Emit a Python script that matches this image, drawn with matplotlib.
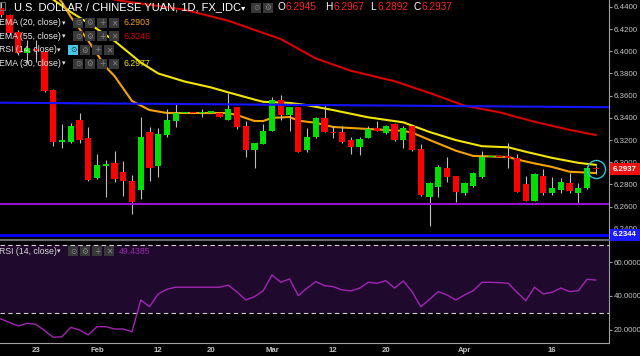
import matplotlib
matplotlib.use("Agg")
import matplotlib.pyplot as plt
from matplotlib.patches import Rectangle
import numpy as np
import pandas as pd

plt.rcParams['font.family'] = ['Liberation Sans', 'DejaVu Sans']

# USD/CNY daily candles (weekdays), 17 Jan - 23 Apr 2018
dates = pd.bdate_range("2018-01-17", "2018-04-23")

opens = [6.4390, 6.4327, 6.4174, 6.3985, 6.4020, 6.3994, 6.3651, 6.3183, 6.3183, 6.3381,
         6.3219, 6.2858, 6.2967, 6.2994, 6.2912, 6.2831, 6.2750, 6.3273, 6.2967, 6.3246,
         6.3372, 6.3444, 6.3445, 6.3444, 6.3445, 6.3446, 6.3381, 6.3498, 6.3327, 6.3111,
         6.3165, 6.3282, 6.3561, 6.3426, 6.3498, 6.3111, 6.3228, 6.3399, 6.3273, 6.3273,
         6.3201, 6.3138, 6.3219, 6.3309, 6.3264, 6.3345, 6.3201, 6.3327, 6.3120, 6.2687,
         6.2777, 6.2949, 6.2876, 6.2723, 6.2786, 6.2867, 6.3048, 6.3049, 6.3048, 6.3039,
         6.2804, 6.2651, 6.2876, 6.2723, 6.2750, 6.2813, 6.2723, 6.2768, 6.2945]
highs = [6.4440, 6.4340, 6.4190, 6.4102, 6.4102, 6.4010, 6.3660, 6.3345, 6.3354, 6.3444,
         6.3318, 6.3075, 6.3021, 6.3102, 6.3012, 6.2885, 6.3408, 6.3318, 6.3309, 6.3480,
         6.3534, 6.3445, 6.3445, 6.3480, 6.3446, 6.3446, 6.3624, 6.3500, 6.3372, 6.3174,
         6.3345, 6.3588, 6.3606, 6.3498, 6.3500, 6.3309, 6.3405, 6.3525, 6.3327, 6.3327,
         6.3228, 6.3228, 6.3327, 6.3372, 6.3336, 6.3350, 6.3327, 6.3330, 6.3165, 6.2822,
         6.2976, 6.3048, 6.2880, 6.2822, 6.2910, 6.3102, 6.3049, 6.3049, 6.3174, 6.3075,
         6.2876, 6.2903, 6.2940, 6.2867, 6.2858, 6.2903, 6.2813, 6.2967, 6.2967]
lows = [6.4310, 6.4150, 6.3970, 6.3894, 6.3903, 6.3630, 6.3147, 6.3129, 6.3174, 6.3174,
        6.2835, 6.2849, 6.2687, 6.2822, 6.2696, 6.2534, 6.2669, 6.2831, 6.2867, 6.3228,
        6.3318, 6.3444, 6.3444, 6.3408, 6.3445, 6.3405, 6.3381, 6.3300, 6.3048, 6.2949,
        6.3165, 6.3282, 6.3381, 6.3282, 6.3090, 6.3093, 6.3220, 6.3270, 6.3219, 6.3174,
        6.3075, 6.3066, 6.3219, 6.3282, 6.3255, 6.3195, 6.3129, 6.3105, 6.2700, 6.2426,
        6.2687, 6.2822, 6.2642, 6.2705, 6.2780, 6.2858, 6.3048, 6.3048, 6.2949, 6.2730,
        6.2651, 6.2651, 6.2705, 6.2705, 6.2723, 6.2723, 6.2624, 6.2760, 6.2892]
closes = [6.4327, 6.4165, 6.3985, 6.4030, 6.4000, 6.3642, 6.3183, 6.3201, 6.3327, 6.3201,
          6.2840, 6.2976, 6.2985, 6.2849, 6.2831, 6.2642, 6.3228, 6.2949, 6.3255, 6.3381,
          6.3444, 6.3445, 6.3444, 6.3445, 6.3446, 6.3410, 6.3480, 6.3318, 6.3111, 6.3174,
          6.3282, 6.3561, 6.3426, 6.3498, 6.3093, 6.3228, 6.3399, 6.3273, 6.3264, 6.3183,
          6.3138, 6.3210, 6.3300, 6.3282, 6.3327, 6.3201, 6.3309, 6.3111, 6.2705, 6.2813,
          6.2958, 6.2867, 6.2732, 6.2813, 6.2903, 6.3048, 6.3049, 6.3048, 6.3040, 6.2732,
          6.2651, 6.2894, 6.2723, 6.2768, 6.2822, 6.2741, 6.2768, 6.2949, 6.2937]

rsi = [26.4, 24.3, 22.2, 23.8, 23.2, 19.5, 15.5, 15.8, 21.4, 19.8,
       16.9, 21.8, 21.8, 20.4, 20.4, 18.8, 37.6, 33.6, 41.2, 44.0,
       45.2, 45.2, 45.2, 45.2, 45.2, 45.2, 46.4, 42.4, 37.6, 39.6,
       43.1, 52.5, 48.1, 50.1, 40.2, 44.6, 48.5, 46.1, 45.5, 43.6,
       43.0, 44.6, 48.1, 47.5, 49.1, 44.7, 48.9, 42.6, 33.6, 38.0,
       42.6, 40.6, 37.6, 40.6, 43.1, 48.1, 48.1, 47.9, 47.5, 42.2,
       37.2, 45.2, 41.2, 42.2, 44.7, 42.6, 43.1, 49.9, 49.4385]

# moving averages
ema20_dates = ["2018-01-25", "2018-01-26", "2018-01-29", "2018-01-31", "2018-02-02", "2018-02-05",
               "2018-02-07", "2018-02-09", "2018-02-13", "2018-02-22", "2018-02-23", "2018-02-27",
               "2018-02-28", "2018-03-01", "2018-03-05", "2018-03-06", "2018-03-08", "2018-03-12",
               "2018-03-16", "2018-03-22", "2018-03-23", "2018-03-27", "2018-03-30", "2018-04-03",
               "2018-04-09", "2018-04-10", "2018-04-12", "2018-04-16", "2018-04-18", "2018-04-23"]
ema20_vals = [6.4530, 6.4440, 6.4310, 6.4095, 6.3858, 6.3777,
              6.3552, 6.3471, 6.3444, 6.3444, 6.3425, 6.3372,
              6.3372, 6.3400, 6.3408, 6.3375, 6.3356, 6.3318,
              6.3300, 6.3283, 6.3268, 6.3201, 6.3105, 6.3057,
              6.3048, 6.3025, 6.2990, 6.2958, 6.2915, 6.2903]

ema30_dates = ["2018-01-23", "2018-01-25", "2018-01-29", "2018-01-31", "2018-02-05", "2018-02-08",
               "2018-02-12", "2018-02-15", "2018-02-20", "2018-02-22", "2018-02-27", "2018-02-28",
               "2018-03-05", "2018-03-07", "2018-03-12", "2018-03-16", "2018-03-22", "2018-03-27",
               "2018-03-30", "2018-04-04", "2018-04-09", "2018-04-11", "2018-04-16", "2018-04-19",
               "2018-04-23"]
ema30_vals = [6.4590, 6.4465, 6.4354, 6.4255, 6.4093, 6.3899,
              6.3800, 6.3728, 6.3675, 6.3630, 6.3565, 6.3545,
              6.3535, 6.3515, 6.3470, 6.3405, 6.3360, 6.3273,
              6.3200, 6.3145, 6.3135, 6.3095, 6.3040, 6.2995,
              6.2977]

ema55_dates = ["2018-02-02", "2018-02-06", "2018-02-15", "2018-02-22", "2018-03-02", "2018-03-08",
               "2018-03-14", "2018-03-21", "2018-03-27", "2018-04-02", "2018-04-06", "2018-04-12",
               "2018-04-18", "2018-04-23"]
ema55_vals = [6.4480, 6.4452, 6.4375, 6.4275, 6.4110, 6.3935,
              6.3825, 6.3730, 6.3625, 6.3510, 6.3450, 6.3365,
              6.3292, 6.3246]

# drawn levels
trend_dates = ["2018-01-17", "2018-04-23"]
trend_prices = [6.3537, 6.3497]
support_level = 6.2625
low_level = 6.2344

xtick_dates = ["2018-01-23", "2018-02-01", "2018-02-12", "2018-02-20", "2018-03-01",
               "2018-03-12", "2018-03-20", "2018-04-02", "2018-04-16"]
xtick_labels = ["23", "Feb", "12", "20", "Mar", "12", "20", "Apr", "16"]

W, H = 640, 356
GREY = '#c4c4c4'


def pos(d):
    return dates.get_loc(pd.Timestamp(d))


def fxy(x, y):
    return x / W, 1 - y / H


fig = plt.figure(figsize=(6.4, 3.56), dpi=100, facecolor='black')
ax = fig.add_axes([0, 117 / H, 609 / W, 239 / H], facecolor='black')
rax = fig.add_axes([0, 13 / H, 609 / W, 103 / H], facecolor='black', sharex=ax)

x = np.arange(len(dates))
o = np.array(opens)
c = np.array(closes)
up = c >= o
colors = np.where(up, '#00e000', '#ff0000')

# moving averages and levels
ax.plot([pos(d) for d in ema55_dates], ema55_vals, color='#d80000', lw=1.5, zorder=1)
ax.plot([pos(d) for d in ema30_dates], ema30_vals, color='#f2e600', lw=1.5, zorder=1)
ax.plot([pos(d) for d in ema20_dates], ema20_vals, color='#f5a300', lw=1.5, zorder=1)

# candles
ax.vlines(x, lows, highs, color='#bdbdbd', lw=0.8, zorder=2)
body = np.maximum(np.abs(c - o), 0.0013)
ax.bar(x, body, bottom=np.minimum(o, c), width=0.7, color=colors, lw=0, zorder=3)

ax.axline((pos(trend_dates[0]), trend_prices[0]), (pos(trend_dates[1]), trend_prices[1]),
          color='#1414ff', lw=1.5, zorder=4)
ax.axhline(support_level, color='#9a10d2', lw=1.5, zorder=4)
ax.axhline(low_level, color='#0000ff', lw=2, zorder=4)
ax.plot(x[-1], closes[-1], marker='o', ms=13, mfc='none', mec='#2ec4d8', mew=1, zorder=5)

ax.set_xlim(-0.086, 69.51)
ax.set_ylim(6.2309, 6.4462)
ax.set_yticks(np.arange(6.24, 6.441, 0.02))
ax.yaxis.set_major_formatter(plt.FuncFormatter(lambda v, p: f"{v:.4f}"))
ax.yaxis.tick_right()
ax.tick_params(axis='y', colors='#9a9a9a', labelcolor=GREY, labelsize=5.7, length=2, pad=1.5)
ax.tick_params(axis='x', bottom=False, labelbottom=False)
for s in ['top', 'left', 'bottom']:
    ax.spines[s].set_visible(False)
ax.spines['right'].set_color('#a0a0a0')

# RSI pane
rax.axhspan(30, 70, color='#1f0a2e', lw=0, zorder=0)
rax.axhline(70, color='#d0d0d0', lw=0.8, dashes=(4, 3), zorder=1)
rax.axhline(30, color='#d0d0d0', lw=0.8, dashes=(4, 3), zorder=1)
rax.plot(x, rsi, color='#a324b4', lw=1.0, zorder=2)
rax.set_ylim(12.1, 73.2)
rax.set_yticks([20, 40, 60])
rax.yaxis.set_major_formatter(plt.FuncFormatter(lambda v, p: f"{v:.4f}"))
rax.yaxis.tick_right()
rax.tick_params(axis='y', colors='#9a9a9a', labelcolor=GREY, labelsize=5.7, length=2, pad=1.5)
rax.set_xticks([pos(d) for d in xtick_dates])
rax.set_xticklabels(xtick_labels, fontweight='bold')
rax.tick_params(axis='x', length=0, labelcolor=GREY, labelsize=5.6, pad=3)
rax.spines['left'].set_visible(False)
rax.spines['top'].set_color('#6a6a6a')
rax.spines['top'].set_linewidth(1.5)
rax.spines['right'].set_color('#a0a0a0')
rax.spines['bottom'].set_color('#a0a0a0')


def text(px, py, s, color, size=6.3, **kw):
    fig.text(*fxy(px, py), s, color=color, fontsize=size, ha='left', va='center', **kw)


def icon(px, py, glyph, face='#383838', fg='#858585'):
    fig.add_artist(Rectangle(fxy(px, py + 5), 10 / W, 10 / H, transform=fig.transFigure,
                             facecolor=face, edgecolor='none'))
    fig.text(*fxy(px + 5, py), glyph, color=fg, fontsize=5.5, ha='center', va='center',
             family=['DejaVu Sans'])


def price_tag(py, s, face):
    fig.add_artist(Rectangle(fxy(610, py + 6), 30 / W, 12 / H, transform=fig.transFigure,
                             facecolor=face, edgecolor='none'))
    text(613, py, s, 'white', size=5.7, fontweight='bold')


# header legend
fig.add_artist(Rectangle(fxy(0, 10), 5 / W, 8 / H, transform=fig.transFigure,
                         facecolor='none', edgecolor='#6a6a6a', lw=0.8))
text(14, 7.5, "U.S. DOLLAR / CHINESE YUAN, 1D, FX_IDC", 'white', size=8)
text(241, 7.5, "\u25BE", 'white', size=6, family=['DejaVu Sans'])
icon(251, 7.5, "\u2299")
icon(263, 7.5, "\u2699")
for lx, letter, val in [(278, "O", "6.2945"), (325, "H", "6.2967"),
                        (370, "L", "6.2892"), (414, "C", "6.2937")]:
    text(lx, 7.5, letter, 'white', size=7.3)
    text(lx + 8, 7.5, val, '#ff2020', size=7.3)

glyphs = ["\u2299", "\u2699", "+", "\u2715"]
rows = [(22.7, "EMA (20, close)", "6.2903", '#f5a300', 73),
        (36.3, "EMA (55, close)", "6.3246", '#d80000', 73),
        (50.0, "RSI (14, close)", "", None, 68),
        (63.5, "EMA (30, close)", "6.2977", '#f2e600', 73)]
for ry, name, val, vcol, ix in rows:
    text(-1, ry, name, '#e8e8e8')
    text(ix - 11, ry, "\u25BE", '#e8e8e8', size=5, family=['DejaVu Sans'])
    for k, g in enumerate(glyphs):
        if name.startswith("RSI") and k == 0:
            icon(ix + 12 * k, ry, g, face='#45c8e6', fg='#1a3a48')
        else:
            icon(ix + 12 * k, ry, g)
    if val:
        text(123, ry, val, vcol)

# RSI legend
text(-1, 251, "RSI (14, close)", '#d8d8d8')
text(57, 251, "\u25BE", '#d8d8d8', size=5, family=['DejaVu Sans'])
for k, g in enumerate(glyphs):
    icon(68 + 12 * k, 251, g)
text(119, 251, "49.4385", '#9c27b0')

price_tag(169.3, "6.2937", '#f01010')
price_tag(235, "6.2344", '#1a1aff')

fig.savefig("out.png", dpi=100, facecolor='black')
